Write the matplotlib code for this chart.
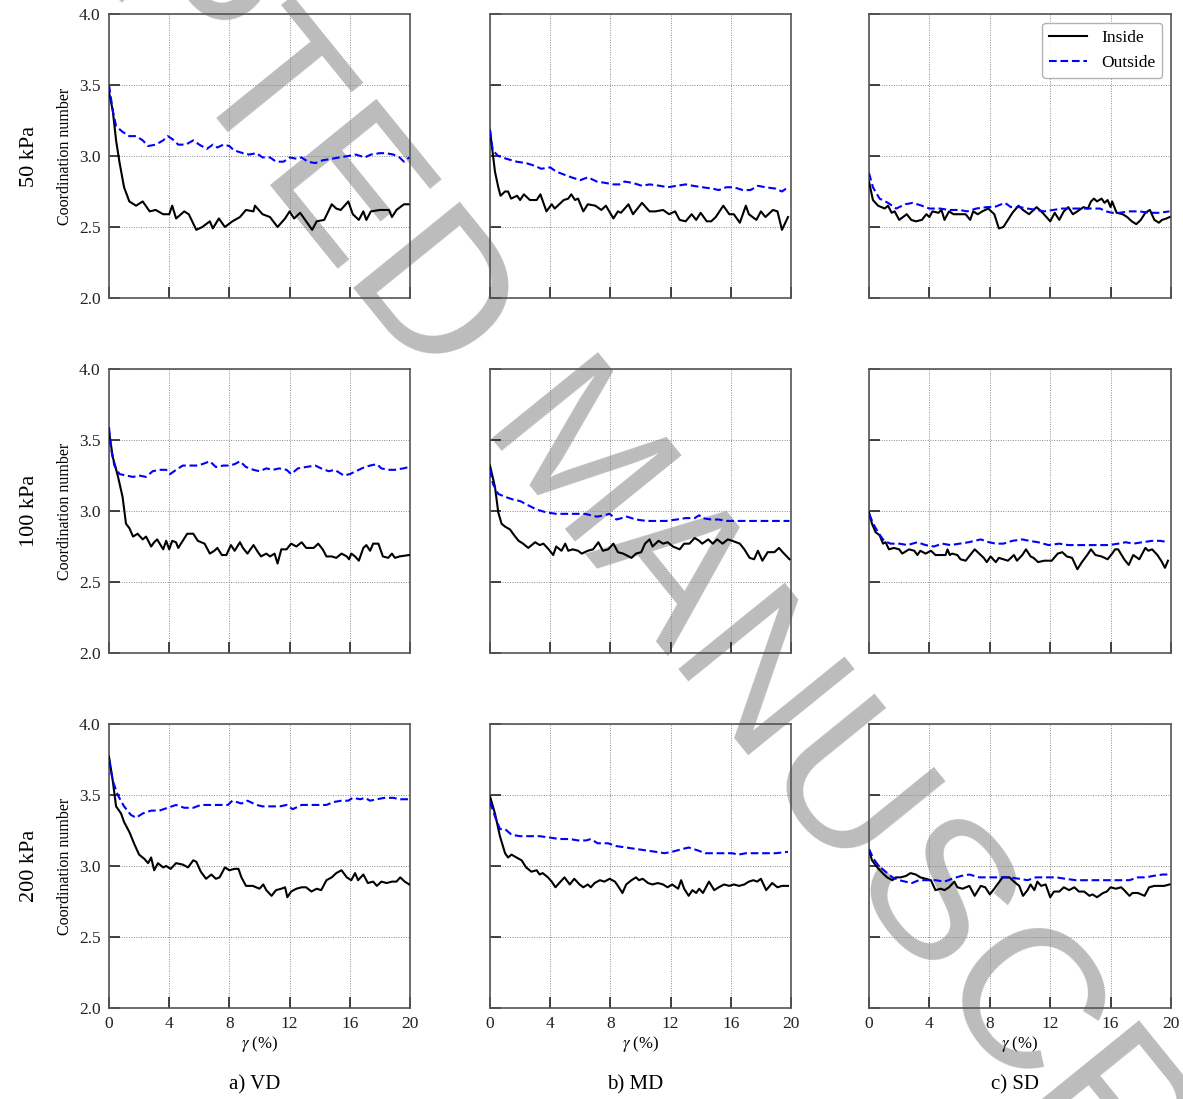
import matplotlib.pyplot as plt

plt.rcParams['font.family'] = ['Liberation Serif', 'DejaVu Serif']
plt.rcParams['mathtext.fontset'] = 'stix'

# ---- 50 kPa ----
vd50_in_x = [0, 0.25, 0.47, 0.69, 1.0, 1.35, 1.8, 2.24, 2.7, 3.1, 3.6, 4.0, 4.2, 4.46, 5.0, 5.3, 5.8, 6.2, 6.7, 6.9, 7.3, 7.7, 8.2, 8.7, 9.1, 9.6, 9.7, 10.2, 10.7, 11.2, 11.7, 12.0, 12.3, 12.7, 13.1, 13.5, 13.8, 14.3, 14.8, 15.1, 15.4, 15.9, 16.2, 16.6, 16.9, 17.1, 17.4, 18.0, 18.6, 18.8, 19.1, 19.6, 19.9]
vd50_in_y = [3.45, 3.32, 3.11, 2.96, 2.78, 2.68, 2.65, 2.68, 2.61, 2.62, 2.59, 2.59, 2.65, 2.56, 2.61, 2.59, 2.48, 2.50, 2.54, 2.49, 2.56, 2.50, 2.54, 2.57, 2.62, 2.61, 2.65, 2.59, 2.57, 2.50, 2.56, 2.61, 2.56, 2.60, 2.54, 2.48, 2.54, 2.55, 2.66, 2.63, 2.62, 2.68, 2.59, 2.55, 2.61, 2.55, 2.61, 2.62, 2.62, 2.57, 2.62, 2.66, 2.66]
vd50_out_x = [0, 0.25, 0.47, 0.9, 1.35, 1.8, 2.24, 2.6, 3.1, 3.6, 3.9, 4.2, 4.6, 5.1, 5.6, 6.0, 6.5, 6.9, 7.2, 7.6, 8.0, 8.3, 8.9, 9.3, 9.8, 10.2, 10.7, 11.1, 11.6, 12.0, 12.5, 12.8, 13.2, 13.7, 14.2, 14.8, 15.3, 15.9, 16.4, 17.0, 17.4, 18.0, 18.4, 18.9, 19.3, 19.6, 19.95]
vd50_out_y = [3.50, 3.32, 3.21, 3.17, 3.14, 3.14, 3.11, 3.07, 3.08, 3.11, 3.14, 3.12, 3.08, 3.08, 3.11, 3.08, 3.05, 3.08, 3.06, 3.08, 3.07, 3.04, 3.02, 3.01, 3.02, 2.99, 2.99, 2.96, 2.96, 2.99, 2.98, 2.99, 2.96, 2.95, 2.97, 2.98, 2.99, 3.00, 3.01, 2.99, 3.01, 3.02, 3.02, 3.01, 2.99, 2.96, 2.99]

md50_in_x = [0, 0.33, 0.55, 0.7, 1.0, 1.2, 1.4, 1.8, 2.0, 2.25, 2.65, 3.1, 3.35, 3.75, 4.1, 4.3, 4.9, 5.2, 5.4, 5.65, 5.85, 6.2, 6.5, 7.0, 7.4, 7.7, 8.2, 8.5, 8.7, 9.2, 9.5, 10.1, 10.6, 11.0, 11.5, 11.9, 12.3, 12.6, 13.0, 13.4, 13.7, 14.0, 14.4, 14.7, 15.0, 15.5, 15.9, 16.2, 16.6, 17.0, 17.2, 17.7, 18.0, 18.3, 18.8, 19.1, 19.4, 19.8]
md50_in_y = [3.18, 2.89, 2.78, 2.72, 2.75, 2.75, 2.70, 2.72, 2.69, 2.73, 2.69, 2.69, 2.73, 2.61, 2.66, 2.63, 2.69, 2.70, 2.73, 2.69, 2.70, 2.61, 2.66, 2.65, 2.62, 2.65, 2.56, 2.61, 2.60, 2.66, 2.59, 2.67, 2.61, 2.61, 2.62, 2.59, 2.61, 2.55, 2.54, 2.59, 2.55, 2.60, 2.54, 2.54, 2.57, 2.65, 2.59, 2.59, 2.53, 2.65, 2.59, 2.55, 2.61, 2.57, 2.62, 2.61, 2.48, 2.57]
md50_out_x = [0, 0.18, 0.55, 1.1, 1.77, 2.4, 3.0, 3.4, 4.0, 4.4, 4.9, 5.4, 6.0, 6.5, 7.1, 7.7, 8.2, 8.6, 8.95, 9.5, 10.1, 10.6, 11.3, 11.8, 12.4, 13.0, 13.5, 14.1, 14.8, 15.2, 15.7, 16.2, 16.8, 17.3, 17.8, 18.3, 19.0, 19.4, 19.8]
md50_out_y = [3.18, 3.04, 3.00, 2.98, 2.96, 2.95, 2.93, 2.91, 2.92, 2.89, 2.87, 2.85, 2.83, 2.85, 2.82, 2.81, 2.80, 2.80, 2.82, 2.81, 2.79, 2.80, 2.79, 2.78, 2.79, 2.80, 2.79, 2.78, 2.77, 2.76, 2.78, 2.78, 2.76, 2.76, 2.79, 2.78, 2.77, 2.75, 2.78]

sd50_in_x = [0, 0.26, 0.6, 1.04, 1.26, 1.5, 1.7, 2.0, 2.5, 2.8, 3.1, 3.5, 3.8, 4.0, 4.2, 4.6, 4.8, 5.0, 5.3, 5.6, 6.0, 6.4, 6.7, 6.9, 7.2, 7.5, 7.9, 8.3, 8.6, 8.9, 9.2, 9.5, 9.9, 10.2, 10.6, 11.1, 11.5, 12.0, 12.3, 12.6, 12.9, 13.2, 13.5, 13.8, 14.2, 14.5, 14.7, 14.9, 15.1, 15.4, 15.6, 15.8, 16.0, 16.1, 16.4, 16.8, 17.1, 17.4, 17.7, 18.0, 18.3, 18.6, 18.9, 19.2, 19.4, 19.7, 19.9]
sd50_in_y = [2.82, 2.69, 2.65, 2.63, 2.65, 2.60, 2.61, 2.55, 2.59, 2.55, 2.54, 2.55, 2.59, 2.57, 2.61, 2.60, 2.62, 2.55, 2.61, 2.59, 2.59, 2.59, 2.55, 2.61, 2.59, 2.61, 2.63, 2.59, 2.49, 2.50, 2.55, 2.60, 2.65, 2.62, 2.59, 2.64, 2.60, 2.54, 2.60, 2.55, 2.61, 2.64, 2.59, 2.61, 2.64, 2.63, 2.68, 2.70, 2.68, 2.70, 2.67, 2.69, 2.64, 2.68, 2.60, 2.59, 2.57, 2.54, 2.52, 2.55, 2.60, 2.62, 2.55, 2.53, 2.55, 2.56, 2.57]
sd50_out_x = [0, 0.26, 0.7, 1.26, 1.8, 2.4, 2.9, 3.5, 4.0, 4.7, 5.3, 6.0, 6.5, 7.1, 7.8, 8.3, 9.0, 9.4, 10.0, 10.5, 11.1, 11.6, 12.2, 12.8, 13.5, 14.2, 14.6, 15.3, 15.7, 16.1, 16.6, 17.2, 17.9, 18.6, 19.2, 19.9]
sd50_out_y = [2.88, 2.78, 2.70, 2.67, 2.63, 2.66, 2.67, 2.65, 2.63, 2.63, 2.62, 2.62, 2.61, 2.63, 2.64, 2.64, 2.67, 2.64, 2.64, 2.63, 2.62, 2.61, 2.62, 2.63, 2.63, 2.63, 2.63, 2.63, 2.61, 2.60, 2.60, 2.61, 2.61, 2.60, 2.60, 2.61]

# ---- 100 kPa ----
vd100_in_x = [0, 0.25, 0.58, 0.9, 1.13, 1.35, 1.6, 1.9, 2.24, 2.46, 2.8, 3.0, 3.2, 3.6, 3.8, 4.0, 4.2, 4.45, 4.6, 4.9, 5.2, 5.6, 5.9, 6.35, 6.7, 7.0, 7.2, 7.5, 7.8, 8.1, 8.35, 8.7, 8.9, 9.2, 9.6, 9.9, 10.1, 10.45, 10.7, 11.0, 11.2, 11.45, 11.8, 12.1, 12.45, 12.8, 13.1, 13.6, 13.9, 14.2, 14.45, 14.8, 15.1, 15.45, 15.8, 15.95, 16.1, 16.35, 16.6, 16.9, 17.1, 17.35, 17.55, 17.9, 18.2, 18.55, 18.8, 19.0, 19.3, 19.95]
vd100_in_y = [3.56, 3.38, 3.25, 3.10, 2.91, 2.88, 2.82, 2.84, 2.80, 2.82, 2.75, 2.78, 2.80, 2.73, 2.79, 2.73, 2.79, 2.78, 2.74, 2.79, 2.84, 2.84, 2.79, 2.77, 2.70, 2.72, 2.74, 2.69, 2.69, 2.76, 2.72, 2.78, 2.74, 2.70, 2.76, 2.71, 2.68, 2.70, 2.68, 2.70, 2.63, 2.73, 2.73, 2.77, 2.75, 2.78, 2.74, 2.74, 2.77, 2.73, 2.68, 2.68, 2.67, 2.70, 2.68, 2.66, 2.70, 2.68, 2.65, 2.74, 2.76, 2.72, 2.77, 2.77, 2.68, 2.67, 2.70, 2.67, 2.68, 2.69]
vd100_out_x = [0, 0.13, 0.36, 0.7, 1.13, 1.6, 2.0, 2.46, 2.9, 3.35, 3.8, 4.06, 4.46, 4.9, 5.35, 5.8, 6.2, 6.7, 7.1, 7.6, 8.0, 8.35, 8.7, 9.1, 9.6, 10.0, 10.45, 10.9, 11.3, 11.8, 12.1, 12.55, 13.1, 13.7, 14.1, 14.6, 15.0, 15.6, 16.0, 16.6, 17.0, 17.35, 17.8, 18.1, 18.55, 19.0, 19.55, 19.95]
vd100_out_y = [3.59, 3.44, 3.32, 3.26, 3.25, 3.24, 3.25, 3.24, 3.28, 3.29, 3.29, 3.26, 3.29, 3.32, 3.32, 3.32, 3.33, 3.35, 3.31, 3.32, 3.32, 3.33, 3.35, 3.31, 3.29, 3.28, 3.30, 3.29, 3.30, 3.29, 3.26, 3.30, 3.31, 3.32, 3.30, 3.28, 3.29, 3.25, 3.26, 3.29, 3.31, 3.32, 3.33, 3.30, 3.29, 3.29, 3.30, 3.31]

md100_in_x = [0, 0.33, 0.55, 0.77, 1.0, 1.33, 1.6, 1.9, 2.2, 2.54, 3.0, 3.3, 3.55, 3.9, 4.2, 4.4, 4.75, 5.0, 5.2, 5.5, 5.85, 6.1, 6.5, 6.85, 7.2, 7.5, 7.85, 8.2, 8.5, 8.85, 9.4, 9.7, 10.05, 10.3, 10.6, 10.8, 11.2, 11.5, 11.8, 12.15, 12.6, 12.9, 13.25, 13.6, 13.9, 14.1, 14.5, 14.8, 15.1, 15.45, 15.8, 16.1, 16.6, 16.9, 17.25, 17.55, 17.8, 18.1, 18.45, 18.9, 19.2, 19.45, 19.9]
md100_in_y = [3.32, 3.17, 2.99, 2.91, 2.89, 2.87, 2.83, 2.79, 2.77, 2.74, 2.78, 2.76, 2.77, 2.73, 2.69, 2.75, 2.72, 2.77, 2.72, 2.73, 2.72, 2.70, 2.72, 2.73, 2.78, 2.72, 2.73, 2.77, 2.71, 2.70, 2.67, 2.70, 2.71, 2.77, 2.80, 2.75, 2.79, 2.77, 2.78, 2.75, 2.73, 2.77, 2.77, 2.81, 2.79, 2.77, 2.80, 2.77, 2.80, 2.77, 2.80, 2.79, 2.77, 2.73, 2.67, 2.66, 2.72, 2.65, 2.71, 2.71, 2.74, 2.71, 2.66]
md100_out_x = [0, 0.2, 0.55, 1.0, 1.55, 2.0, 2.54, 3.1, 3.75, 4.4, 5.1, 5.75, 6.3, 7.1, 7.6, 7.95, 8.4, 9.1, 9.7, 10.4, 11.05, 11.7, 12.4, 13.0, 13.6, 13.9, 14.1, 14.7, 15.2, 15.7, 16.35, 17.0, 17.7, 18.3, 19.1, 19.9]
md100_out_y = [3.29, 3.19, 3.12, 3.10, 3.08, 3.07, 3.04, 3.01, 2.99, 2.98, 2.98, 2.98, 2.98, 2.96, 2.97, 2.98, 2.94, 2.96, 2.94, 2.93, 2.93, 2.93, 2.94, 2.95, 2.95, 2.97, 2.95, 2.94, 2.94, 2.93, 2.93, 2.93, 2.93, 2.93, 2.93, 2.93]

sd100_in_x = [0, 0.2, 0.44, 0.7, 0.93, 1.1, 1.32, 1.65, 2.0, 2.2, 2.65, 3.0, 3.2, 3.4, 3.75, 4.1, 4.4, 4.85, 5.07, 5.2, 5.35, 5.5, 5.85, 6.06, 6.4, 6.7, 7.0, 7.3, 7.6, 7.8, 8.05, 8.4, 8.6, 8.9, 9.2, 9.6, 9.8, 10.15, 10.4, 10.7, 10.9, 11.2, 11.6, 11.8, 12.1, 12.5, 12.8, 13.1, 13.45, 13.8, 14.1, 14.45, 14.7, 15.0, 15.4, 15.8, 16.1, 16.3, 16.5, 16.9, 17.2, 17.5, 17.9, 18.3, 18.5, 18.75, 19.1, 19.35, 19.6, 19.8]
sd100_in_y = [2.99, 2.91, 2.85, 2.83, 2.77, 2.78, 2.73, 2.74, 2.73, 2.70, 2.73, 2.72, 2.69, 2.72, 2.70, 2.72, 2.69, 2.69, 2.69, 2.73, 2.69, 2.70, 2.69, 2.66, 2.65, 2.69, 2.73, 2.70, 2.67, 2.64, 2.68, 2.64, 2.67, 2.66, 2.65, 2.69, 2.65, 2.69, 2.73, 2.68, 2.67, 2.64, 2.65, 2.65, 2.65, 2.70, 2.71, 2.68, 2.67, 2.59, 2.64, 2.69, 2.73, 2.69, 2.68, 2.66, 2.70, 2.73, 2.73, 2.66, 2.62, 2.69, 2.66, 2.74, 2.72, 2.73, 2.69, 2.65, 2.60, 2.65]
sd100_out_x = [0, 0.33, 0.66, 1.0, 1.43, 2.0, 2.55, 3.2, 3.75, 4.3, 4.85, 5.4, 6.0, 6.6, 7.4, 7.95, 8.4, 8.9, 9.5, 10.15, 10.6, 11.2, 11.9, 12.6, 13.2, 13.9, 14.55, 15.2, 15.9, 16.5, 17.0, 17.5, 18.1, 18.75, 19.3, 19.8]
sd100_out_y = [2.98, 2.90, 2.84, 2.79, 2.77, 2.77, 2.76, 2.78, 2.76, 2.75, 2.77, 2.76, 2.77, 2.78, 2.80, 2.78, 2.77, 2.77, 2.79, 2.80, 2.79, 2.78, 2.76, 2.77, 2.76, 2.76, 2.76, 2.76, 2.76, 2.77, 2.78, 2.77, 2.78, 2.79, 2.79, 2.78]

# ---- 200 kPa ----
vd200_in_x = [0, 0.25, 0.47, 0.8, 1.0, 1.35, 1.7, 2.0, 2.35, 2.6, 2.8, 3.0, 3.25, 3.6, 3.8, 4.1, 4.45, 4.9, 5.25, 5.6, 5.8, 6.1, 6.45, 6.8, 7.1, 7.35, 7.7, 8.0, 8.35, 8.6, 8.8, 9.1, 9.55, 10.0, 10.25, 10.45, 10.8, 11.1, 11.45, 11.7, 11.85, 12.1, 12.45, 12.8, 13.1, 13.45, 13.8, 14.1, 14.45, 14.8, 15.1, 15.45, 15.8, 16.1, 16.35, 16.55, 16.9, 17.2, 17.55, 17.8, 18.1, 18.45, 18.8, 19.1, 19.35, 19.65, 19.95]
vd200_in_y = [3.77, 3.60, 3.42, 3.37, 3.31, 3.24, 3.15, 3.08, 3.05, 3.02, 3.06, 2.97, 3.02, 2.99, 3.00, 2.98, 3.02, 3.01, 2.99, 3.04, 3.03, 2.96, 2.91, 2.94, 2.91, 2.92, 2.99, 2.97, 2.98, 2.98, 2.92, 2.86, 2.86, 2.84, 2.87, 2.83, 2.79, 2.83, 2.84, 2.85, 2.78, 2.82, 2.84, 2.85, 2.85, 2.82, 2.84, 2.83, 2.90, 2.92, 2.95, 2.97, 2.92, 2.90, 2.95, 2.90, 2.94, 2.88, 2.89, 2.86, 2.89, 2.88, 2.89, 2.89, 2.92, 2.89, 2.87]
vd200_out_x = [0, 0.25, 0.58, 1.0, 1.45, 1.8, 2.24, 2.8, 3.35, 3.9, 4.45, 5.0, 5.6, 6.1, 6.7, 7.35, 7.9, 8.2, 8.8, 9.2, 9.8, 10.2, 10.8, 11.35, 11.8, 12.2, 12.8, 13.35, 13.9, 14.45, 14.9, 15.45, 15.9, 16.2, 16.7, 17.0, 17.35, 17.8, 18.3, 18.9, 19.3, 19.95]
vd200_out_y = [3.75, 3.60, 3.50, 3.42, 3.36, 3.34, 3.37, 3.39, 3.39, 3.41, 3.43, 3.41, 3.41, 3.43, 3.43, 3.43, 3.43, 3.46, 3.44, 3.46, 3.43, 3.42, 3.42, 3.42, 3.43, 3.40, 3.43, 3.43, 3.43, 3.43, 3.45, 3.46, 3.46, 3.48, 3.47, 3.48, 3.46, 3.47, 3.48, 3.48, 3.47, 3.47]

md200_in_x = [0, 0.33, 0.66, 1.0, 1.2, 1.43, 1.76, 2.1, 2.4, 2.75, 3.1, 3.3, 3.5, 3.85, 4.1, 4.35, 4.6, 4.95, 5.3, 5.6, 5.95, 6.2, 6.5, 6.7, 6.95, 7.3, 7.6, 7.95, 8.3, 8.5, 8.8, 9.05, 9.4, 9.7, 9.9, 10.15, 10.5, 10.8, 11.15, 11.5, 11.8, 12.1, 12.5, 12.7, 12.9, 13.2, 13.45, 13.7, 13.9, 14.15, 14.55, 14.9, 15.2, 15.55, 15.9, 16.2, 16.55, 16.9, 17.2, 17.5, 17.75, 18.0, 18.35, 18.75, 19.1, 19.4, 19.8]
md200_in_y = [3.49, 3.37, 3.21, 3.09, 3.06, 3.08, 3.06, 3.04, 2.99, 2.96, 2.97, 2.94, 2.95, 2.92, 2.89, 2.85, 2.88, 2.92, 2.87, 2.91, 2.87, 2.85, 2.87, 2.85, 2.88, 2.90, 2.89, 2.91, 2.89, 2.86, 2.81, 2.87, 2.90, 2.92, 2.90, 2.91, 2.88, 2.87, 2.88, 2.87, 2.85, 2.87, 2.84, 2.90, 2.84, 2.79, 2.83, 2.81, 2.84, 2.81, 2.89, 2.83, 2.85, 2.87, 2.86, 2.87, 2.86, 2.87, 2.89, 2.90, 2.89, 2.91, 2.83, 2.88, 2.85, 2.86, 2.86]
md200_out_x = [0, 0.33, 0.66, 1.0, 1.43, 2.0, 2.65, 3.3, 4.0, 4.6, 5.3, 5.85, 6.4, 6.7, 7.15, 7.85, 8.4, 9.05, 9.7, 10.35, 11.0, 11.6, 12.1, 12.8, 13.2, 13.8, 14.3, 14.8, 15.4, 16.1, 16.5, 17.0, 17.6, 18.3, 19.0, 19.8]
md200_out_y = [3.45, 3.35, 3.26, 3.26, 3.22, 3.21, 3.21, 3.21, 3.20, 3.19, 3.19, 3.18, 3.18, 3.19, 3.16, 3.16, 3.14, 3.13, 3.12, 3.11, 3.10, 3.09, 3.10, 3.12, 3.13, 3.11, 3.09, 3.09, 3.09, 3.09, 3.08, 3.09, 3.09, 3.09, 3.09, 3.10]

sd200_in_x = [0, 0.2, 0.55, 0.9, 1.2, 1.55, 1.77, 2.1, 2.45, 2.75, 3.1, 3.4, 3.75, 4.1, 4.4, 4.75, 5.0, 5.3, 5.65, 5.85, 6.2, 6.65, 7.0, 7.4, 7.7, 8.0, 8.3, 8.5, 8.85, 9.3, 9.6, 9.95, 10.2, 10.5, 10.7, 10.95, 11.15, 11.4, 11.7, 12.0, 12.25, 12.6, 12.9, 13.25, 13.6, 13.9, 14.25, 14.6, 14.8, 15.1, 15.5, 15.75, 16.0, 16.35, 16.7, 16.9, 17.25, 17.45, 17.8, 18.25, 18.55, 18.9, 19.2, 19.55, 19.9]
sd200_in_y = [3.11, 3.04, 2.99, 2.95, 2.92, 2.90, 2.92, 2.92, 2.93, 2.95, 2.94, 2.92, 2.91, 2.90, 2.83, 2.84, 2.83, 2.85, 2.89, 2.85, 2.84, 2.86, 2.79, 2.86, 2.85, 2.80, 2.84, 2.87, 2.92, 2.92, 2.89, 2.86, 2.79, 2.83, 2.87, 2.83, 2.89, 2.86, 2.87, 2.78, 2.82, 2.82, 2.85, 2.83, 2.85, 2.82, 2.82, 2.79, 2.80, 2.78, 2.81, 2.82, 2.85, 2.84, 2.85, 2.83, 2.79, 2.81, 2.81, 2.79, 2.85, 2.86, 2.86, 2.86, 2.87]
sd200_out_x = [0, 0.3, 0.65, 1.1, 1.55, 2.0, 2.4, 2.85, 3.3, 3.85, 4.4, 5.0, 5.5, 6.1, 6.65, 7.3, 7.95, 8.6, 9.3, 9.95, 10.5, 11.05, 11.7, 12.4, 13.0, 13.7, 14.35, 15.0, 15.6, 16.1, 16.7, 17.25, 17.8, 18.35, 18.8, 19.45, 19.9]
sd200_out_y = [3.12, 3.05, 3.00, 2.96, 2.92, 2.90, 2.89, 2.88, 2.90, 2.90, 2.90, 2.89, 2.91, 2.93, 2.94, 2.92, 2.92, 2.92, 2.92, 2.91, 2.90, 2.92, 2.92, 2.92, 2.91, 2.90, 2.90, 2.90, 2.90, 2.90, 2.90, 2.90, 2.92, 2.92, 2.93, 2.94, 2.94]

row_labels = ['50 kPa', '100 kPa', '200 kPa']
col_labels = ['a) VD', 'b) MD', 'c) SD']
x_ticks = [0, 4, 8, 12, 16, 20]
y_ticks = [2.0, 2.5, 3.0, 3.5, 4.0]

panels = [
    [(vd50_in_x, vd50_in_y, vd50_out_x, vd50_out_y),
     (md50_in_x, md50_in_y, md50_out_x, md50_out_y),
     (sd50_in_x, sd50_in_y, sd50_out_x, sd50_out_y)],
    [(vd100_in_x, vd100_in_y, vd100_out_x, vd100_out_y),
     (md100_in_x, md100_in_y, md100_out_x, md100_out_y),
     (sd100_in_x, sd100_in_y, sd100_out_x, sd100_out_y)],
    [(vd200_in_x, vd200_in_y, vd200_out_x, vd200_out_y),
     (md200_in_x, md200_in_y, md200_out_x, md200_out_y),
     (sd200_in_x, sd200_in_y, sd200_out_x, sd200_out_y)],
]

W, H = 1183, 1099
fig = plt.figure(figsize=(W / 100, H / 100), dpi=100)

# layout in pixels (left, top) of every panel
col_left = [109, 490, 869]
col_w = [301, 301, 302]
row_top = [14, 369, 724]
ax_h = 284

# watermark, drawn under the panels
wm_kw = dict(fontsize=143, family='Liberation Sans', color='#bcbcbc', rotation=-51,
             rotation_mode='anchor', va='baseline', zorder=-5)
fig.text(433 / W, 1 - 387 / H, 'ACCEPTED', ha='right', **wm_kw)
fig.text(474 / W, 1 - 438 / H, 'MANUSCRIPT', ha='left', **wm_kw)

for r in range(3):
    for c in range(3):
        ax = fig.add_axes([col_left[c] / W, 1 - (row_top[r] + ax_h) / H,
                           col_w[c] / W, ax_h / H])
        ax.set_facecolor('none')
        xi, yi, xo, yo = panels[r][c]
        ax.plot(xi, yi, color='black', lw=1.5, label='Inside', zorder=3)
        ax.plot(xo, yo, color='#0000ff', lw=1.5, ls=(0, (3.7, 1.8)), label='Outside', zorder=3)
        ax.set_xlim(0, 20)
        ax.set_ylim(2.0, 4.0)
        ax.set_xticks(x_ticks)
        ax.set_yticks(y_ticks)
        ax.grid(True, color='#8a8a8a', ls=(0, (1, 1.5)), lw=0.7)
        ax.tick_params(direction='in', length=8, width=1.2, top=False, right=False,
                       labelsize=12.5, colors='#222222', pad=6)
        for s in ax.spines.values():
            s.set_color('#555555')
            s.set_linewidth(1.2)
        if c == 0:
            ax.set_yticklabels(['%.1f' % v for v in y_ticks])
            ax.set_ylabel('Coordination number', fontsize=11.5)
            ax.yaxis.set_label_coords(-0.118, 0.5)
            fig.text(30 / W, 1 - (row_top[r] + ax_h / 2) / H, row_labels[r],
                     rotation=90, ha='center', va='center', fontsize=16)
        else:
            ax.set_yticklabels([])
        if r == 2:
            ax.set_xlabel(r'$\gamma$ (%)', fontsize=12)
            ax.xaxis.set_label_coords(0.5, -0.09)
            fig.text((col_left[c] + col_w[c] / 2 - 5) / W, 1 - 1085 / H, col_labels[c],
                     ha='center', va='center', fontsize=15)
        else:
            ax.set_xticklabels([])
        if r == 0 and c == 2:
            ax.legend(loc='upper right', fontsize=12.5, handlelength=2.2,
                      frameon=True, fancybox=True, edgecolor='#aaaaaa',
                      framealpha=0.9, borderpad=0.4, labelspacing=0.5)

fig.savefig('out.png', dpi=100)
